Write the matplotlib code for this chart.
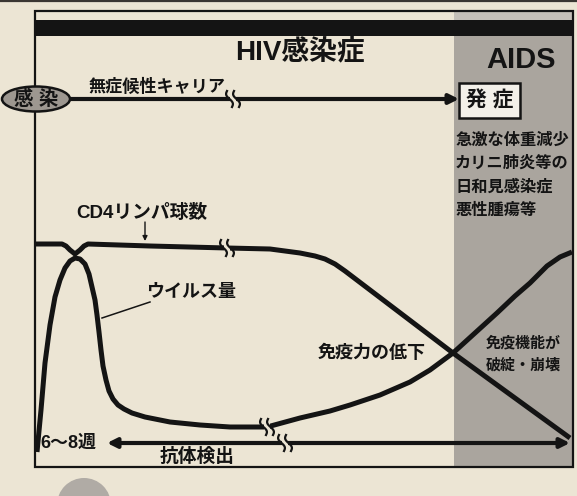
import numpy as np
import matplotlib
matplotlib.use("Agg")
import matplotlib.pyplot as plt
from matplotlib.patches import Rectangle, Ellipse, Circle

plt.rcParams['font.family'] = ['Liberation Sans', 'Noto Sans CJK JP', 'DejaVu Sans']
plt.rcParams['font.weight'] = 'bold'

# ---------------- data ----------------
# CD4 lymphocyte count curve (time axis -> x, level -> y, image units)
cd4_x = [35, 62, 66, 70, 75, 80, 84, 88, 150, 227, 270, 300, 315, 325, 335, 345, 453, 570]
cd4_y = [244, 244, 246, 250, 254, 250, 246, 244, 246, 248, 249, 253, 256, 259, 264, 271, 353, 438]

# Viral load curve
virus_x = [37, 41, 45, 50, 55, 60, 65, 70, 75, 80, 85, 89, 92, 95, 97, 99, 101, 103, 106, 109, 113, 118,
           124, 132, 145, 170, 200, 230, 267, 300, 330, 350, 380, 410, 430, 453, 475, 497, 515, 530, 547, 560, 572]
virus_y = [452, 410, 363, 325, 297, 280, 268, 261, 258, 259, 264, 274, 287, 300, 315, 332, 350, 366, 380, 391, 399, 405,
           409, 413, 417, 422, 425, 427, 427, 418, 411, 405, 395, 382, 370, 353, 333, 313, 296, 283, 266, 257, 252]

# phase boundaries / annotations
infection_x = 36
aids_start_x = 454
frame_left, frame_right, frame_top, frame_bottom = 35, 573, 11, 467
carrier_arrow_y = 99
antibody_arrow = (107, 570, 443)

title_hiv = "HIV感染症"
title_aids = "AIDS"
label_infection = "感 染"
label_carrier = "無症候性キャリア"
label_onset = "発 症"
aids_symptoms = ["急激な体重減少", "カリニ肺炎等の", "日和見感染症", "悪性腫瘍等"]
label_cd4 = "CD4リンパ球数"
label_virus = "ウイルス量"
label_decline = "免疫力の低下"
label_collapse = ["免疫機能が", "破綻・崩壊"]
label_weeks = "6～8週"
label_antibody = "抗体検出"

# break marks (x, y) on the lines
breaks = [(233, 99), (227, 248), (267, 427), (285, 443)]

# ---------------- style ----------------
BG = "#ece5d4"
GRAY = "#aaa59e"
INK = "#141414"

fig = plt.figure(figsize=(5.77, 4.96), dpi=100, facecolor=BG)
ax = fig.add_axes([0, 0, 1, 1])
ax.set_xlim(0, 577)
ax.set_ylim(496, 0)
ax.axis('off')
ax.set_facecolor(BG)

# top scan edge
ax.plot([0, 577], [1, 1], color="#3a3632", lw=1.6, zorder=1)

# AIDS gray region
ax.add_patch(Rectangle((aids_start_x, frame_top), frame_right - aids_start_x,
                       frame_bottom - frame_top, facecolor=GRAY, edgecolor='none', zorder=0.5))
ax.add_patch(Rectangle((aids_start_x, frame_top), frame_right - aids_start_x, 9,
                       facecolor="#c4bfb8", edgecolor='none', zorder=0.6))
# black band
ax.add_patch(Rectangle((frame_left, 20), frame_right - frame_left, 16,
                       facecolor=INK, edgecolor='none', zorder=1))
# frame
ax.add_patch(Rectangle((frame_left, frame_top), frame_right - frame_left, frame_bottom - frame_top,
                       facecolor='none', edgecolor=INK, lw=1.6, zorder=2))

# titles
ax.text(300, 52, title_hiv, fontsize=20, ha='center', va='center', color=INK, zorder=5)
ax.text(521, 60, title_aids, fontsize=21, ha='center', va='center', color=INK, zorder=5)

# carrier arrow
ax.annotate('', xy=(459, carrier_arrow_y), xytext=(68, carrier_arrow_y),
            arrowprops=dict(arrowstyle='-|>', lw=3.0, color=INK, mutation_scale=14,
                            shrinkA=0, shrinkB=0), zorder=3)
ax.text(157, 86, label_carrier, fontsize=12.3, ha='center', va='center', color=INK, zorder=5)

# infection ellipse
ax.add_patch(Ellipse((infection_x, 99), 68, 25, facecolor="#9d9790", edgecolor=INK, lw=1.8, zorder=4))
ax.text(infection_x, 99.5, label_infection, fontsize=14, ha='center', va='center', color=INK, zorder=5)

# onset box
ax.add_patch(Rectangle((459, 83), 61, 35, facecolor="#f3f0e9", edgecolor=INK, lw=1.8, zorder=4))
ax.text(489.5, 100.5, label_onset, fontsize=15, ha='center', va='center', color=INK, zorder=5)

# AIDS symptoms
for i, s in enumerate(aids_symptoms):
    ax.text(455, 140 + i * 23.3, s, fontsize=11.7, ha='left', va='center', color=INK, zorder=5)

# curves
ax.plot(cd4_x, cd4_y, color=INK, lw=3.6, solid_joinstyle='round', solid_capstyle='butt', zorder=3)
ax.plot(virus_x, virus_y, color=INK, lw=3.6, solid_joinstyle='round', solid_capstyle='butt', zorder=3)

# labels with pointers
ax.text(142, 213, label_cd4, fontsize=13.5, ha='center', va='center', color=INK, zorder=5)
ax.annotate('', xy=(145, 241), xytext=(145, 222),
            arrowprops=dict(arrowstyle='-|>', lw=1.0, color=INK, mutation_scale=7,
                            shrinkA=0, shrinkB=0), zorder=5)
ax.text(191, 293, label_virus, fontsize=13, ha='center', va='center', color=INK, zorder=5)
ax.plot([150, 102], [302, 318], color=INK, lw=1.1, zorder=5)

ax.text(372, 353, label_decline, fontsize=13, ha='center', va='center', color=INK, zorder=5)
for i, s in enumerate(label_collapse):
    ax.text(523, 343 + i * 22, s, fontsize=10.8, ha='center', va='center', color=INK, zorder=5)

# antibody arrow
x0, x1, ya = antibody_arrow
ax.annotate('', xy=(x1, ya), xytext=(x0, ya),
            arrowprops=dict(arrowstyle='<|-|>', lw=3.0, color=INK, mutation_scale=14,
                            shrinkA=0, shrinkB=0), zorder=3)
ax.text(40, 443, label_weeks, fontsize=13, ha='left', va='center', color=INK, zorder=5)
ax.text(197, 457, label_antibody, fontsize=13.5, ha='center', va='center', color=INK, zorder=5)

# break marks
t = np.linspace(-1, 1, 30)
for bx, by in breaks:
    ax.add_patch(Rectangle((bx - 3, by - 5), 6, 10, facecolor=BG, edgecolor='none', zorder=4))
    for off in (-3.5, 3.5):
        sx = bx + off + 2.0 * np.sin(np.pi * t) + 2.5 * t
        sy = by + 8 * t
        ax.plot(sx, sy, color=INK, lw=1.6, zorder=5)

# next-page gray circle fragment
ax.add_patch(Circle((84, 505), 27, facecolor="#b0aba5", edgecolor='none', zorder=1))

fig.savefig("out.png", dpi=100, facecolor=BG)
